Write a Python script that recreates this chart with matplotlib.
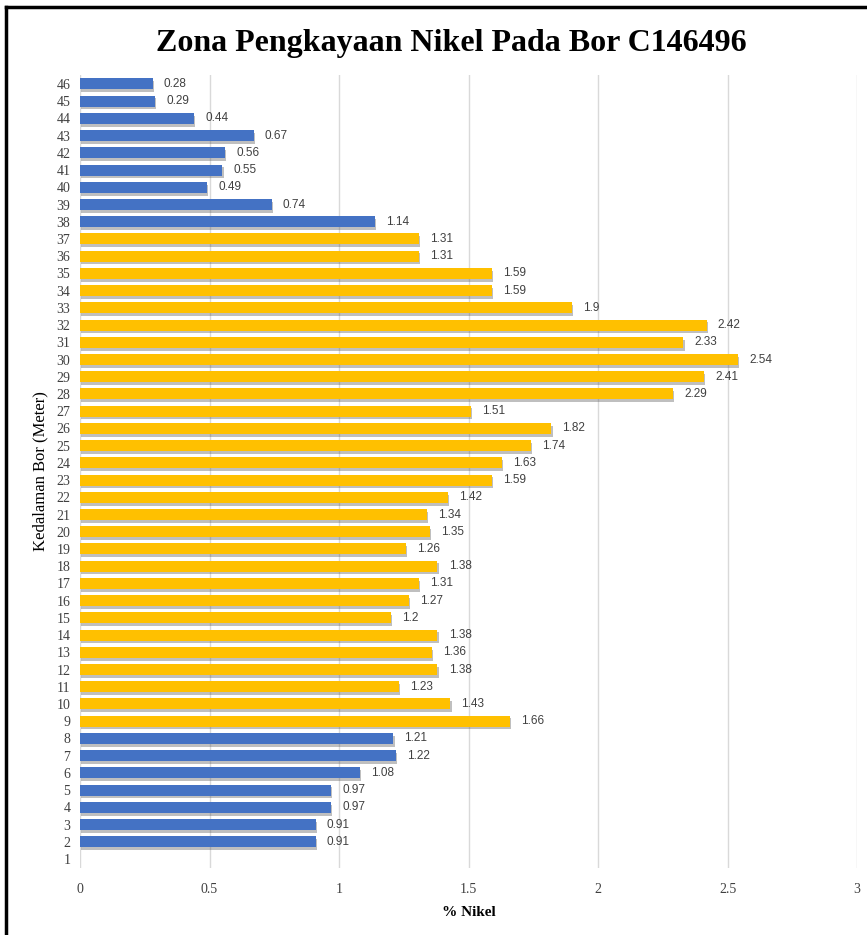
import numpy as np
import matplotlib
matplotlib.use("Agg")
import matplotlib.pyplot as plt
import matplotlib.patheffects as pe
from matplotlib.lines import Line2D

# Data:
depths = list(range(1, 47))
nikel = [np.nan, 0.91, 0.91, 0.97, 0.97, 1.08, 1.22, 1.21, 1.66, 1.43,
         1.23, 1.38, 1.36, 1.38, 1.2, 1.27, 1.31, 1.38, 1.26, 1.35,
         1.34, 1.42, 1.59, 1.63, 1.74, 1.82, 1.51, 2.29, 2.41, 2.54,
         2.33, 2.42, 1.9, 1.59, 1.59, 1.31, 1.31, 1.14, 0.74, 0.49,
         0.55, 0.56, 0.67, 0.44, 0.29, 0.28]
enriched = [9 <= d <= 37 for d in depths]  # zona pengkayaan

BLUE = "#4472C4"
GOLD = "#FFC000"
SERIF = "Liberation Serif"

fig = plt.figure(figsize=(8.67, 9.35), dpi=100)
ax = fig.add_axes([0.0923, 0.0721, 0.8962, 0.8473])

colors = [GOLD if e else BLUE for e in enriched]
bars = ax.barh(depths, np.nan_to_num(nikel), height=0.64, color=colors,
               zorder=3)
shadow = [pe.SimplePatchShadow(offset=(0.8, -2), alpha=0.4,
                               shadow_rgbFace="#606060"), pe.Normal()]
for b in bars:
    b.set_path_effects(shadow)

for d, v in zip(depths, nikel):
    if np.isnan(v):
        continue
    ax.annotate(f"{v:g}", (v, d), xytext=(8, 0), textcoords="offset points",
                va="center", ha="left", fontsize=8.5, color="#404040",
                family="Liberation Sans")

ax.set_xlim(0, 3)
ax.set_ylim(0.5, 46.5)
ax.set_xticks(np.arange(0, 3.01, 0.5))
ax.set_xticklabels(["0", "0.5", "1", "1.5", "2", "2.5", "3"])
ax.set_yticks(depths)
for lab in ax.get_xticklabels() + ax.get_yticklabels():
    lab.set_family(SERIF)
    lab.set_fontsize(10)
    lab.set_color("#404040")
ax.tick_params(length=0, pad=7)
ax.tick_params(axis="x", pad=11)
ax.grid(axis="x", color="#d9d9d9", linewidth=1, zorder=0)
for s in ax.spines.values():
    s.set_visible(False)

ax.set_xlabel("% Nikel", family=SERIF, fontsize=11, fontweight="bold",
              labelpad=7)
ax.set_ylabel("Kedalaman Bor (Meter)", family=SERIF, fontsize=12,
              labelpad=6)

fig.text(0.52, 0.954, "Zona Pengkayaan Nikel Pada Bor C146496", family=SERIF,
         fontsize=23, fontweight="bold", ha="center", va="center")

# frame on top and left edges
fig.add_artist(Line2D([0.007, 0.007], [0, 0.993], color="black", lw=2.5,
                      transform=fig.transFigure))
fig.add_artist(Line2D([0.007, 1], [0.993, 0.993], color="black", lw=2.5,
                      transform=fig.transFigure))

fig.savefig("out.png", dpi=100)
